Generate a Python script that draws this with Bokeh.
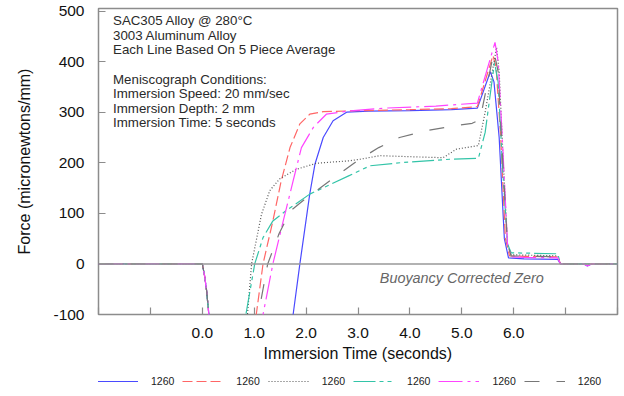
from bokeh.plotting import figure
from bokeh.layouts import column
from bokeh.models import Range1d, FixedTicker, Span, Label, Legend, LegendItem
from bokeh.embed import file_html
from bokeh.resources import INLINE

FONT = "Liberation Sans"

# ---- axes / ticks ----
x_ticks = [-2, -1, 0, 1, 2, 3, 4, 5, 6, 7, 8]
x_tick_labels = ["", "", "0.0", "1.0", "2.0", "3.0", "4.0", "5.0", "6.0", "", ""]
y_ticks = [-100, 0, 100, 200, 300, 400, 500]
y_tick_labels = ["-100", "0", "100", "200", "300", "400", "500"]

# ---- series (time in s, force in micronewtons/mm) ----
series_labels = ["1260", "1260", "1260", "1260", "1260", "1260"]

t_blue = [-2, 0, 0.045, 0.083, 0.12, 0.16, 0.3, 1.68, 1.75, 1.88, 2.07, 2.17, 2.33, 2.52, 2.78, 3.2, 4.0,
          4.8, 5.3, 5.55, 5.62, 5.72, 5.82, 5.9, 6.2, 6.85, 6.9, 7.35, 7.42, 7.5, 8]
f_blue = [0, 0, -24, -53, -93, -150, -400, -150, -100, 0, 138, 197, 250, 283, 300, 302, 303,
          305, 308, 380, 360, 250, 50, 12, 10, 9, 0, 0, -4, 0, 0]

t_red = [-2, 0, 0.045, 0.083, 0.12, 0.16, 0.3, 0.98, 1.04, 1.17, 1.36, 1.52, 1.69, 1.88, 2.07, 2.33, 3.0,
         4.0, 4.8, 5.3, 5.6, 5.66, 5.75, 5.84, 5.92, 6.2, 6.85, 6.9, 8]
f_red = [0, 0, -24, -53, -93, -150, -400, -150, -100, 0, 85, 164, 230, 277, 296, 301, 303,
         305, 307, 311, 412, 390, 250, 50, 16, 15, 14, 0, 0]

t_dot = [-2, 0, 0.045, 0.083, 0.12, 0.16, 0.3, 0.8, 0.87, 0.95, 1.14, 1.30, 1.49, 1.81, 2.2, 2.84, 3.04,
         3.42, 4.0, 4.64, 4.9, 5.32, 5.45, 5.67, 5.72, 5.8, 5.88, 5.95, 6.85, 6.9, 8]
f_dot = [0, 0, -24, -53, -93, -150, -400, -150, -100, 0, 98, 145, 168, 187, 199, 204, 207,
         214, 212, 210, 227, 234, 300, 428, 380, 200, 40, 18, 16, 0, 0]

t_teal = [-2, 0, 0.045, 0.083, 0.12, 0.16, 0.3, 0.78, 0.84, 1.01, 1.17, 1.36, 1.65, 2.07, 2.84, 3.23,
          3.81, 4.77, 5.32, 5.45, 5.63, 5.7, 5.78, 5.88, 5.95, 6.85, 6.9, 8]
f_teal = [0, 0, -24, -53, -93, -150, -400, -150, -100, 0, 52, 85, 108, 138, 175, 194,
          200, 207, 209, 260, 398, 360, 200, 40, 22, 20, 0, 0]

t_mag = [-2, 0, 0.045, 0.083, 0.12, 0.16, 0.3, 1.1, 1.17, 1.36, 1.56, 1.75, 1.91, 2.14, 2.39, 2.78, 3.5,
         4.5, 5.3, 5.64, 5.7, 5.78, 5.88, 5.95, 6.2, 6.85, 6.9, 7.35, 7.42, 7.5, 8]
f_mag = [0, 0, -24, -53, -93, -150, -400, -150, -100, 0, 85, 164, 230, 270, 296, 302, 308,
         312, 318, 438, 400, 250, 40, 14, 13, 12, 0, 0, -4, 0, 0]

t_gray = [-2, 0, 0.045, 0.083, 0.12, 0.16, 0.3, 1.02, 1.08, 1.26, 1.48, 1.7, 2.0, 2.2, 2.6, 3.0, 3.4,
          3.8, 4.3, 4.8, 5.2, 5.35, 5.62, 5.7, 5.78, 5.88, 5.95, 6.85, 6.9, 8]
f_gray = [0, 0, -24, -53, -93, -150, -400, -150, -100, 0, 60, 105, 130, 145, 175, 205, 230,
          250, 263, 272, 278, 285, 420, 380, 220, 40, 16, 14, 0, 0]

# single-point proxies that carry each series' style into the legend strip (draw nothing)
proxy_x = [0.5]
proxy_y = [0.5]

info_lines = ["SAC305 Alloy @ 280\u00b0C", "3003 Aluminum Alloy", "Each Line Based On 5 Piece Average",
              "Meniscograph Conditions:", "Immersion Speed: 20 mm/sec", "Immersion Depth: 2 mm",
              "Immersion Time: 5 seconds"]
info_y = [481, 452, 424, 364, 337, 308, 280]

p = figure(width=624, height=370, output_backend="svg", toolbar_location=None,
           x_range=Range1d(-2, 8), y_range=Range1d(-100, 505),
           min_border_left=98, min_border_right=7, min_border_top=8, min_border_bottom=56,
           background_fill_color="white", border_fill_color="white")
p.grid.visible = False
p.outline_line_color = "#8c8c8c"
p.outline_line_width = 1.5

for ax in (p.xaxis[0], p.yaxis[0]):
    ax.axis_line_color = None
    ax.major_tick_in = 7
    ax.major_tick_out = 0
    ax.major_tick_line_color = "#8c8c8c"
    ax.major_tick_line_width = 1.2
    ax.minor_tick_line_color = None
    ax.major_label_text_font = FONT
    ax.major_label_text_font_size = "15.5px"
    ax.major_label_text_color = "#111111"
    ax.axis_label_text_font = FONT
    ax.axis_label_text_font_size = "16px"
    ax.axis_label_text_font_style = "normal"
    ax.axis_label_text_color = "#111111"

p.xaxis.ticker = FixedTicker(ticks=x_ticks)
p.xaxis.major_label_overrides = {t: lab for t, lab in zip(x_ticks, x_tick_labels)}
p.xaxis.major_label_standoff = 13
p.xaxis.axis_label = "Immersion Time (seconds)"
p.xaxis.axis_label_standoff = 4

p.yaxis.ticker = FixedTicker(ticks=y_ticks)
p.yaxis.major_label_overrides = {t: lab for t, lab in zip(y_ticks, y_tick_labels)}
p.yaxis.major_label_standoff = 14
p.yaxis.axis_label = "Force (micronewtons/mm)"
p.yaxis.axis_label_standoff = 17

p.add_layout(Span(location=0, dimension="width", line_color="#999999", line_width=1.5))

styles = [
    (t_blue, f_blue, "#4a4aff", None),
    (t_red, f_red, "#ff6666", "10 4"),
    (t_dot, f_dot, "#555555", "1 2"),
    (t_teal, f_teal, "#33c4a8", "22 4 4 4 4 4"),
    (t_mag, f_mag, "#ff44ff", "24 5 3 5"),
    (t_gray, f_gray, "#777777", "15 17"),
]

# legend strip below the chart
leg = figure(width=624, height=26, output_backend="svg", toolbar_location=None,
             x_range=Range1d(0, 1), y_range=Range1d(0, 1),
             min_border_left=0, min_border_right=0, min_border_top=0, min_border_bottom=0,
             x_axis_location=None, y_axis_location=None,
             background_fill_color="white", border_fill_color="white")
leg.grid.visible = False
leg.outline_line_color = None

items = []
for (tt, ff, col, dash), lab in zip(styles, series_labels):
    kw = dict(line_color=col, line_width=1.2)
    if dash:
        kw["line_dash"] = dash
    p.line(tt, ff, **kw)
    r2 = leg.line(proxy_x, proxy_y, **kw)
    items.append(LegendItem(label=lab, renderers=[r2]))

for txt, yy in zip(info_lines, info_y):
    p.add_layout(Label(x=-1.72, y=yy, text=txt, text_font=FONT, text_font_size="13.3px",
                       text_color="#2a2a2a", text_baseline="middle"))

p.add_layout(Label(x=3.42, y=-28, text="Buoyancy  Corrected  Zero", text_font=FONT,
                   text_font_size="14.4px", text_font_style="italic", text_color="#666666",
                   text_baseline="middle"))

legend = Legend(items=items, orientation="horizontal", location=(-3, 5),
                glyph_width=41, glyph_height=16, label_standoff=13, spacing=8,
                padding=2, margin=0, label_text_font=FONT, label_text_font_size="10.5px",
                label_text_color="#1a1a1a", border_line_alpha=0, background_fill_alpha=0)
leg.add_layout(legend)

layout = column(p, leg, spacing=0)
open("out.html", "w").write(file_html(layout, INLINE))
